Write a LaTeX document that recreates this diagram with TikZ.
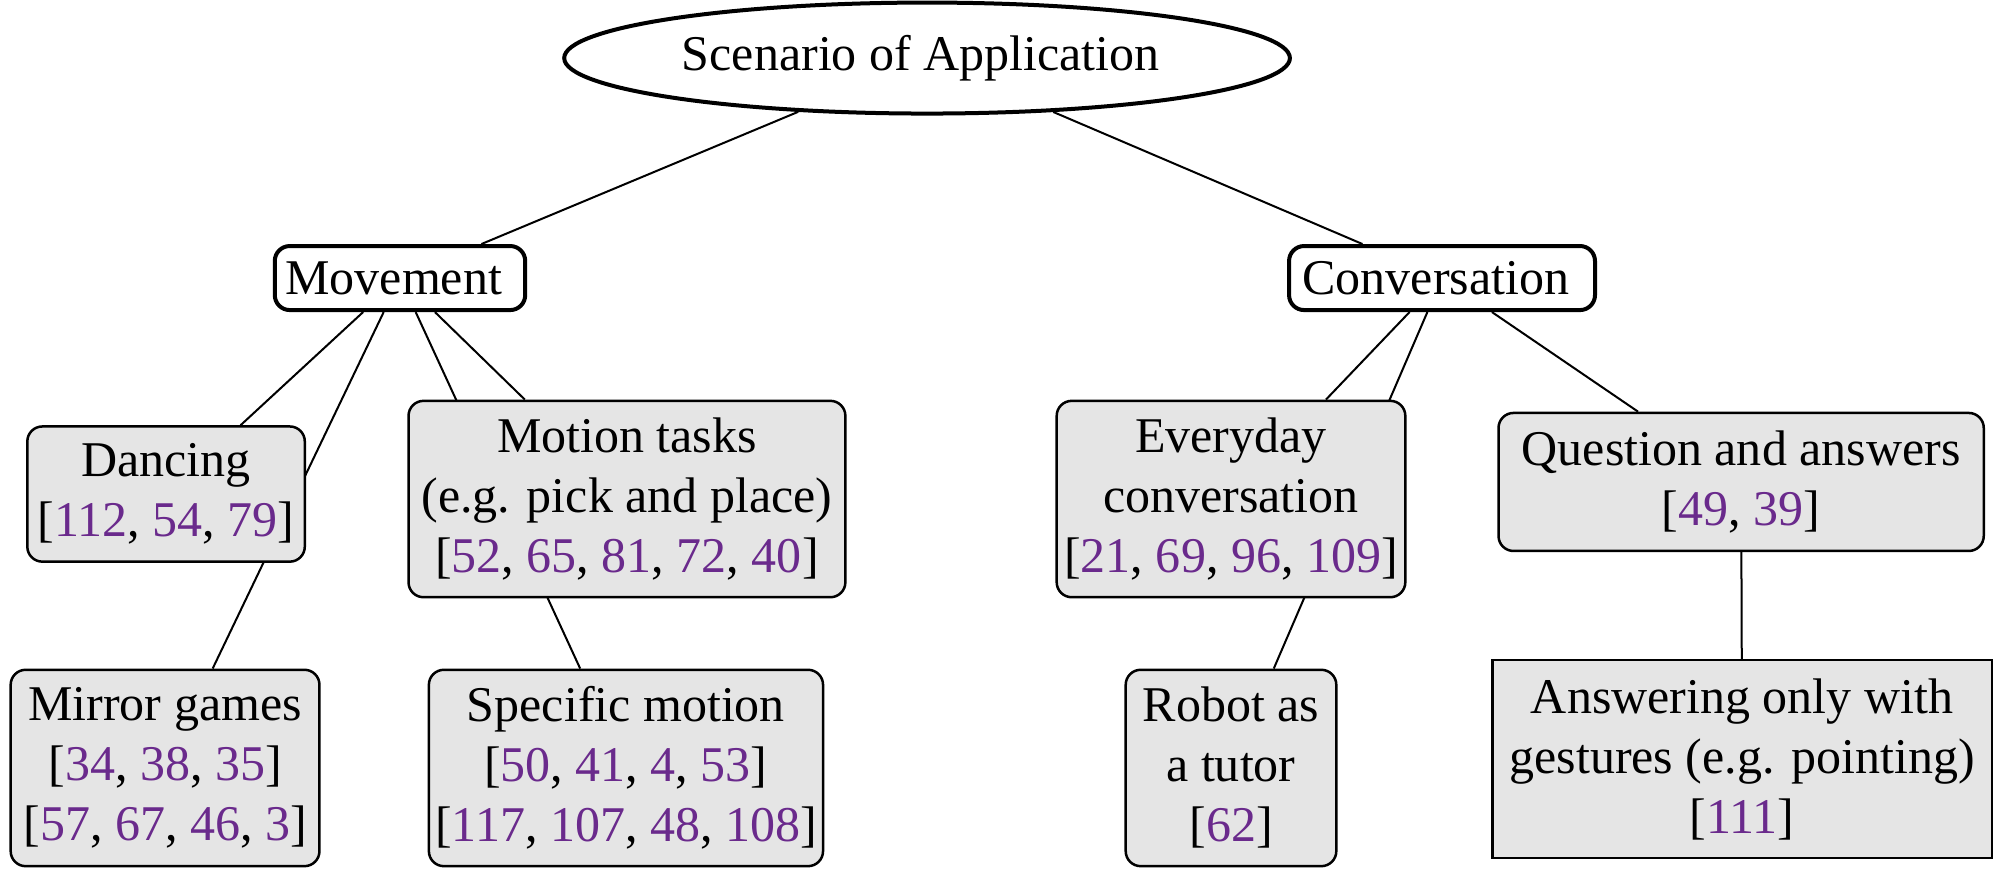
\documentclass[tikz,border=0pt]{standalone}
\usepackage{fontspec}
\setmainfont{Liberation Serif}
\usepackage{tikz}
\usetikzlibrary{positioning, shapes.geometric, backgrounds}
\definecolor{citecol}{RGB}{106,42,140}
\newcommand{\citeno}[1]{\textcolor{citecol}{#1}}

\begin{document}
\begin{tikzpicture}[every node/.style = { align = center, inner sep = 1pt },
    topic/.style = { draw, line width = 0.8pt, rounded corners = 3pt, fill = white,
                     minimum height = 0.45cm },
    leaf/.style = { draw, line width = 0.5pt, rounded corners = 3pt, fill = gray!20 },
    link/.style = { line width = 0.4pt }]
    \useasboundingbox (0,0) rectangle (14.02,-6.15);

    \node [draw, ellipse, line width = 0.8pt, minimum width = 5.1cm, minimum height = 0.78cm]
        (root) at (6.515,-0.408) { Scenario of Application };

    \node [topic, minimum width = 1.76cm] (mov) at (2.811,-1.954) { Movement };
    \node [topic, minimum width = 2.15cm] (conv) at (10.134,-1.954) { Conversation };

    \node [leaf, minimum width = 1.95cm, minimum height = 0.95cm] (dan) at (1.167,-3.472)
        { Dancing \\ {[}\citeno{112}, \citeno{54}, \citeno{79}] };
    \node [leaf, minimum width = 3.07cm, minimum height = 1.38cm] (mot) at (4.406,-3.507)
        { Motion tasks \\ (e.g. pick and place) \\
          {[}\citeno{52}, \citeno{65}, \citeno{81}, \citeno{72}, \citeno{40}] };
    \node [leaf, minimum width = 2.17cm, minimum height = 1.38cm] (mir) at (1.160,-5.397)
        { Mirror games \\ {[}\citeno{34}, \citeno{38}, \citeno{35}] \\
          {[}\citeno{57}, \citeno{67}, \citeno{46}, \citeno{3}] };
    \node [leaf, minimum width = 2.77cm, minimum height = 1.38cm] (spec) at (4.399,-5.397)
        { Specific motion \\ {[}\citeno{50}, \citeno{41}, \citeno{4}, \citeno{53}] \\
          {[}\citeno{117}, \citeno{107}, \citeno{48}, \citeno{108}] };

    \node [leaf, minimum width = 2.45cm, minimum height = 1.38cm] (every) at (8.651,-3.507)
        { Everyday \\ conversation \\
          {[}\citeno{21}, \citeno{69}, \citeno{96}, \citeno{109}] };
    \node [leaf, minimum width = 1.48cm, minimum height = 1.38cm] (tutor) at (8.651,-5.397)
        { Robot as \\ a tutor \\ {[}\citeno{62}] };
    \node [leaf, minimum width = 3.41cm, minimum height = 0.97cm] (qa) at (12.236,-3.387)
        { Question and answers \\ {[}\citeno{49}, \citeno{39}] };
    \node [leaf, rounded corners = 0pt, minimum width = 3.51cm, minimum height = 1.39cm]
        (gest) at (12.243,-5.334)
        { Answering only with \\ gestures (e.g. pointing) \\ {[}\citeno{111}] };

    % connectors run behind the boxes
    \begin{scope}[on background layer]
        \draw [link] (root) -- (mov);
        \draw [link] (root) -- (conv);
        \draw [link] (mov) -- (dan);
        \draw [link] (mov) -- (mir);
        \draw [link] (mov) -- (mot);
        \draw [link] (mov) -- (spec);
        \draw [link] (conv) -- (every);
        \draw [link] (conv) -- (tutor);
        \draw [link] (conv) -- (qa);
        \draw [link] (qa) -- (gest);
    \end{scope}
\end{tikzpicture}
\end{document}
